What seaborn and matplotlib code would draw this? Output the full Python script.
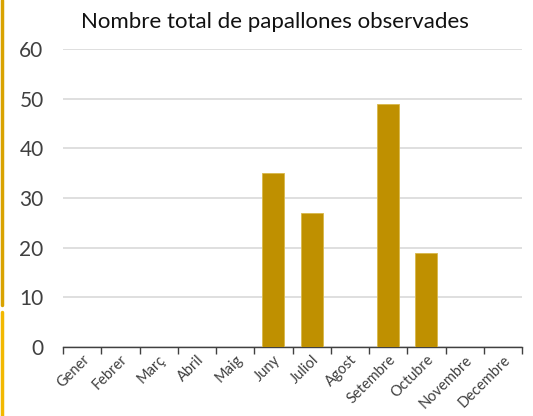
import matplotlib
matplotlib.use("Agg")
import matplotlib.pyplot as plt
import seaborn as sns
import pandas as pd
from matplotlib.lines import Line2D
from matplotlib.ticker import FixedLocator

months = ["Gener", "Febrer", "Març", "Abril", "Maig", "Juny", "Juliol",
          "Agost", "Setembre", "Octubre", "Novembre", "Decembre"]
counts = [0, 0, 0, 0, 0, 35, 27, 0, 49, 19, 0, 0]
y_ticks = [0, 10, 20, 30, 40, 50, 60]
title = "Nombre total de papallones observades"

df = pd.DataFrame({"mes": months, "papallones": counts})

sns.set_theme(style="white")
plt.rcParams["font.family"] = ["Lato", "DejaVu Sans"]

fig = plt.figure(figsize=(5.33, 4.16), dpi=100)
ax = fig.add_axes([63 / 533, 1 - 347 / 416, 459 / 533, 298 / 416])

sns.barplot(data=df, x="mes", y="papallones", color="#BF9000", width=0.58,
            saturation=1, ax=ax, edgecolor="#d9b84a", linewidth=0.6, zorder=3)

ax.set_ylim(0, 60)
ax.set_xlim(-0.5, len(months) - 0.5)
ax.set_yticks(y_ticks)
ax.set_yticklabels([str(v) for v in y_ticks], fontsize=15, color="#404040")
ax.yaxis.grid(True, color="#d9d9d9", linewidth=1.2, zorder=0)
ax.set_axisbelow(True)
ax.tick_params(axis="y", length=0, pad=14)

# month names at category centres, tick marks at category boundaries
ax.set_xticks(range(len(months)))
ax.set_xticklabels(months)
ax.tick_params(axis="x", which="major", length=0, pad=4,
               labelsize=10.5, labelcolor="#404040")
for lbl in ax.get_xticklabels():
    lbl.set_rotation(45)
    lbl.set_horizontalalignment("right")
    lbl.set_rotation_mode("anchor")
ax.xaxis.set_minor_locator(FixedLocator([i - 0.5 for i in range(len(months) + 1)]))
ax.tick_params(axis="x", which="minor", direction="out", length=5, width=1,
               color="#404040", bottom=True)

for s in ["top", "right", "left"]:
    ax.spines[s].set_visible(False)
ax.spines["bottom"].set_color("#404040")
ax.spines["bottom"].set_linewidth(1)
ax.set_xlabel("")
ax.set_ylabel("")

fig.text(275 / 533, 1 - 22 / 416, title, ha="center", va="center",
         fontsize=16, color="#111111")

# gold rule along the left edge
fig.add_artist(Line2D([1.5 / 533, 1.5 / 533], [1 - 305 / 416, 1.0],
                      transform=fig.transFigure, color="#D9A300", linewidth=2.5))
fig.add_artist(Line2D([1.5 / 533, 1.5 / 533], [0.0, 1 - 312 / 416],
                      transform=fig.transFigure, color="#F2B800", linewidth=2.5))

fig.savefig("out.png", dpi=100)
